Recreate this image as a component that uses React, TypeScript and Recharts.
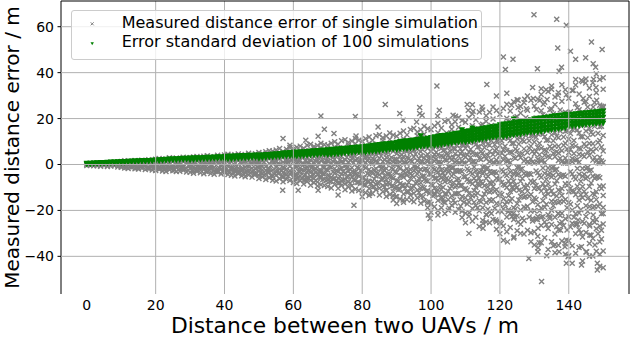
import React from 'react';
import { ReferenceLine, Scatter, ScatterChart, XAxis, YAxis } from 'recharts';

const xTicks = [0, 20, 40, 60, 80, 100, 120, 140];
const yTicks = [-40, -20, 0, 20, 40, 60];
const gridX = [20, 40, 60, 80, 100, 120, 140];
const gridY = [-40, -20, 0, 20, 40, 60];

// single simulation errors, grouped by distance (m)
const singleErrors: [number, number[]][] = [
	[0, [0.2, -0.4, 0.1]], [1, [-0.3, 0.5, -0.1]], [2, [0.4, -0.6, 0.2]], [3, [-0.5, 0.3, -0.2]],
	[4, [0.6, -0.3, -0.8]], [5, [-0.4, 0.7, 0.1]], [6, [-0.9, 0.4, -0.2]], [7, [0.5, -0.7, 0.9]],
	[8, [-0.6, 1.0, -0.3]], [9, [0.8, -1.1, 0.2]],
	[10, [-1.2, 0.5, -0.4, 1.3]], [11, [0.9, -0.8, 1.6, -1.5]], [12, [-0.3, 1.4, -1.7, 0.6]],
	[13, [1.1, -1.3, 0.2, -0.7]], [14, [-1.9, 0.8, 1.7, -0.5]], [15, [0.4, -1.4, 1.2, -2.0]],
	[16, [-0.8, 1.9, -1.6, 0.3]], [17, [1.5, -0.6, -2.2, 0.9]], [18, [-1.3, 2.1, 0.6, -1.8]],
	[19, [0.7, -2.4, 1.3, -0.9]],
	[20, [-1.5, 2.3, -0.6, 1.0, -2.6]], [21, [1.8, -1.2, 0.4, -2.1, 2.6]], [22, [-0.9, 1.5, -2.8, 0.7, -1.7]],
	[23, [2.4, -0.4, -1.9, 1.2, -3.0]], [24, [-2.3, 0.9, 2.9, -1.1, 0.3]], [25, [1.4, -2.7, -0.7, 2.0, -1.6]],
	[26, [-1.2, 2.8, -3.1, 0.6, 1.6]], [27, [0.8, -1.9, 2.2, -2.9, -0.5]], [28, [-2.5, 1.3, 3.2, -0.9, -1.4]],
	[29, [2.7, -3.3, 0.5, -1.8, 1.9]],
	[30, [-1.7, 3.0, -3.4, 0.9, 2.1, -0.6]], [31, [1.2, -2.6, 3.3, -1.1, -3.8, 0.4]],
	[32, [-3.0, 2.4, -0.8, 1.7, -2.1, 3.5]], [33, [2.9, -1.5, -3.6, 0.6, 1.9, -2.4]],
	[34, [-2.2, 3.6, 0.2, -4.0, 1.3, -1.0]], [35, [1.6, -3.2, 2.6, -1.6, 3.8, -0.3]],
	[36, [-3.9, 1.1, -2.0, 3.1, -0.7, 2.2]], [37, [3.4, -2.8, 0.8, -1.3, -4.3, 1.8]],
	[38, [-1.8, 2.7, -3.3, 4.0, 0.5, -2.6]], [39, [2.3, -4.1, 1.4, -0.6, 3.2, -2.0]],
	[40, [-3.5, 2.9, -1.2, 4.1, -2.4, 0.7]], [41, [1.9, -4.4, 3.3, -0.5, -2.9, 4.5]],
	[42, [-2.1, 3.8, -4.7, 1.2, 2.4, -1.3]], [43, [4.2, -3.1, 0.9, -2.2, 3.0, -5.0]],
	[44, [-4.0, 1.7, 4.6, -1.5, -2.8, 2.6]], [45, [2.8, -2.5, -4.9, 3.9, 0.3, -1.7]],
	[46, [-1.1, 4.4, -3.6, 2.1, -5.3, 1.4]], [47, [3.5, -4.6, 1.8, -2.7, 4.9, -0.8]],
	[48, [-3.2, 2.3, -5.5, 3.7, -1.6, 0.6]], [49, [4.7, -1.9, -3.8, 1.1, 2.9, -4.4]],
	[50, [-4.8, 3.6, -1.4, 5.2, -2.9, 0.8, -6.1]], [51, [2.2, -3.9, 4.8, -0.7, -5.4, 1.6, -2.3]],
	[52, [-2.6, 5.5, -4.3, 1.9, 3.1, -6.5, -0.9]], [53, [4.5, -1.8, -5.8, 2.7, -3.4, 6.0, 0.4]],
	[54, [-5.1, 2.0, 3.9, -2.4, -6.9, 1.2, 5.8]], [55, [1.5, -4.7, 6.3, -1.2, -3.1, 4.1, -7.2]],
	[56, [-3.7, 4.9, -6.2, 2.6, 0.2, -2.0, 7.0]], [57, [5.7, -5.5, 1.0, -3.5, 3.4, -7.5, -1.3]],
	[58, [-6.4, 3.0, -2.2, 6.6, -4.5, 1.8, 0.5]], [59, [2.9, -7.0, 4.4, -0.9, -4.0, 7.4, -2.7]],
	[60, [-5.6, 4.0, -2.1, 6.8, -7.8, 1.3, -3.9, 2.5]], [61, [3.6, -6.0, 7.5, -1.0, -4.6, 5.1, -8.3, 0.6]],
	[62, [-3.1, 6.2, -7.1, 1.9, 4.4, -5.0, -1.5, 8.0]], [63, [7.1, -2.6, -8.5, 3.3, -4.9, 0.2, 5.6, -6.7]],
	[64, [-7.4, 2.8, 5.3, -3.3, -1.2, 8.4, -5.8, 1.0]], [65, [1.8, -5.2, 8.8, -0.4, -6.9, 4.7, -3.0, -9.0]],
	[66, [-4.2, 6.9, -8.0, 3.7, 0.9, -2.3, 7.8, -6.1]], [67, [8.3, -7.6, 2.1, -4.4, 5.0, -9.4, -1.1, 3.1]],
	[68, [-8.8, 4.3, -2.8, 7.3, -5.6, 1.6, 9.2, -3.6]], [69, [3.9, -9.2, 6.0, -1.3, -6.3, 8.6, -4.1, 0.7]],
	[70, [-6.6, 5.2, -2.4, 8.4, -9.6, 1.5, -4.8, 3.2]], [71, [4.4, -7.4, 9.3, -1.2, -5.7, 6.3, -10.2, 0.8]],
	[72, [-3.8, 7.6, -8.7, 2.3, 5.4, -6.1, -1.8, 9.9]], [73, [8.8, -3.2, -10.4, 4.0, -6.0, 0.3, 6.9, -8.2]],
	[74, [-9.1, 3.5, 6.5, -4.1, -1.5, 10.3, -7.1, 1.2]], [75, [2.2, -6.4, 10.8, -0.5, -8.5, 5.8, -3.7, -11.0]],
	[76, [-5.2, 8.5, -9.8, 4.5, 1.1, -2.8, 9.6, -7.5]], [77, [10.2, -9.3, 2.6, -5.4, 6.2, -11.5, -1.4, 3.8]],
	[78, [-10.8, 5.3, -3.4, 9.0, -6.9, 2.0, 11.3, -4.4]], [79, [4.8, -11.3, 7.4, -1.6, -7.7, 10.6, -5.0, 0.9]],
	[80, [-7.9, 6.3, -2.9, 10.1, -11.6, 1.8, -5.8, 3.9, -14.0]], [81, [5.3, -8.9, 11.2, -1.4, -6.9, 7.6, -12.3, 0.9, 3.0]],
	[82, [-4.6, 9.2, -10.5, 2.8, 6.5, -7.4, -2.2, 12.0, -13.5]], [83, [10.6, -3.9, -12.6, 4.8, -7.3, 0.4, 8.3, -9.9, 2.5]],
	[84, [-11.0, 4.2, 7.9, -5.0, -1.8, 12.5, -8.6, 1.4, -3.4]], [85, [2.7, -7.8, 13.0, -0.6, -10.3, 7.0, -4.5, -13.3, 5.1]],
	[86, [-6.3, 10.3, -11.9, 5.5, 1.3, -3.4, 11.6, -9.1, -1.0]], [87, [12.4, -11.3, 3.1, -6.6, 7.5, -13.9, -1.7, 4.6, -8.5]],
	[88, [-13.1, 6.4, -4.1, 10.9, -8.4, 2.4, 13.7, -5.3, 0.5]], [89, [5.8, -13.7, 9.0, -2.0, -9.3, 12.8, -6.0, 1.1, -15.5]],
	[90, [-9.6, 7.7, -3.5, 12.3, -14.1, 2.2, -7.0, 4.7, -17.0, 0.3]],
	[91, [6.4, -10.8, 13.6, -1.7, -8.4, 9.2, -15.0, 1.1, 3.6, -4.9]],
	[92, [-5.6, 11.2, -12.8, 3.4, 7.9, -9.0, -2.7, 14.6, -16.4, 0.8]],
	[93, [12.9, -4.7, -15.3, 5.8, -8.9, 0.5, 10.1, -12.0, 3.0, -1.9]],
	[94, [-13.4, 5.1, 9.6, -6.1, -2.2, 15.2, -10.5, 1.7, -4.1, 7.2]],
	[95, [3.3, -9.5, 15.8, -0.7, -12.5, 8.5, -5.5, -16.2, 6.2, -2.6]],
	[96, [-7.7, 12.5, -14.5, 6.7, 1.6, -4.1, 14.1, -11.1, -1.2, 9.7]],
	[97, [15.1, -13.7, 3.8, -8.0, 9.1, -16.9, -2.1, 5.6, -10.3, 0.9]],
	[98, [-15.9, 7.8, -5.0, 13.2, -10.2, 2.9, 16.7, -6.4, 0.6, -2.3]],
	[99, [7.0, -16.6, 10.9, -2.4, -11.3, 15.6, -7.3, 1.3, -18.8, 4.5]],
	[100, [-11.8, 9.4, -4.3, 15.1, -17.3, 2.7, -8.6, 5.8, -20.8, 0.4]],
	[101, [7.9, -13.3, 16.8, -2.1, -10.3, 11.4, -18.4, 1.4, 4.4, -6.0]],
	[102, [-6.9, 13.8, -15.7, 4.2, 9.7, -11.1, -3.3, 18.0, -20.1, 1.0]],
	[103, [15.9, -5.8, -18.8, 7.1, -10.9, 0.6, 12.4, -14.7, 3.7, -2.3]],
	[104, [-16.5, 6.3, 11.8, -7.5, -2.7, 18.7, -12.9, 2.1, -5.0, 8.9]],
	[105, [4.1, -11.7, 19.4, -0.9, -15.4, 10.5, -6.8, -19.9, 7.6, -3.2]],
	[106, [-9.5, 15.4, -17.8, 8.2, 2.0, -5.0, 17.3, -13.6, -1.5, 11.9]],
	[107, [18.6, -16.8, 4.7, -9.8, 11.2, -20.8, -2.6, 6.9, -12.7, 1.1]],
	[108, [-19.6, 9.6, -6.2, 16.2, -12.5, 3.6, 20.5, -7.9, 0.7, -2.8]],
	[109, [8.6, -20.4, 13.4, -3.0, -13.9, 19.2, -9.0, 1.6, -23.1, 5.5]],
	[110, [-14.5, 11.5, -5.3, 18.4, -21.2, 3.3, -10.5, 7.1, -25.4, 0.5, 14.0]],
	[111, [9.7, -16.3, 20.5, -2.6, -12.6, 13.9, -22.5, 1.7, 5.4, -7.3, -30]],
	[112, [-8.4, 16.9, -19.2, 5.1, 11.9, -13.6, -4.0, 22.0, -24.6, 1.2, 26]],
	[113, [19.5, -7.1, -23.0, 8.7, -13.4, 0.7, 15.2, -18.0, 4.5, -2.8, -9.9]],
	[114, [-20.2, 7.7, 14.4, -9.2, -3.3, 22.9, -15.8, 2.6, -6.1, 10.9, -27]],
	[115, [5.0, -14.3, 23.7, -1.1, -18.8, 12.8, -8.3, -24.3, 9.3, -3.9, 17.5]],
	[116, [-11.6, 18.8, -21.8, 10.0, 2.4, -6.1, 21.2, -16.6, -1.8, 14.6, -25]],
	[117, [22.7, -20.5, 5.7, -12.0, 13.7, -25.4, -3.2, 8.4, -15.5, 1.3, -8]],
	[118, [-24.0, 11.7, -7.6, 19.8, -15.3, 4.4, 25.0, -9.7, 0.9, -3.4, 13]],
	[119, [10.5, -24.9, 16.4, -3.7, -17.0, 23.5, -11.0, 2.0, -28.2, 6.7, -6]],
	[120, [-17.3, 13.7, -6.3, 21.9, -25.2, 3.9, -12.5, 8.4, -30.2, 0.6, 16.6]],
	[121, [11.5, -19.4, 24.4, -3.1, -15.0, 16.5, -26.8, 2.0, 6.4, -8.7, -33]],
	[122, [-10.0, 20.1, -22.9, 6.1, 14.2, -16.2, -4.8, 26.2, -29.3, 1.4, 31]],
	[123, [23.3, -8.5, -27.4, 10.4, -16.0, 0.8, 18.1, -21.5, 5.4, -3.3, -11.8]],
	[124, [-24.0, 9.2, 17.2, -11.0, -3.9, 27.3, -18.8, 3.1, -7.3, 13.0, -32]],
	[125, [6.0, -17.1, 28.2, -1.3, -22.4, 15.3, -9.9, -28.9, 11.1, -4.6, 20.8]],
	[126, [-13.8, 22.4, -26.0, 11.9, 2.9, -7.3, 25.3, -19.8, -2.1, 17.4, -30]],
	[127, [27.0, -24.4, 6.8, -14.3, 16.3, -30.3, -3.8, 10.0, -18.5, 1.5, -9.5]],
	[128, [-28.6, 13.9, -9.0, 23.6, -18.2, 5.2, 29.8, -11.6, 1.1, -4.1, 15.5]],
	[129, [12.5, -29.7, 19.5, -4.4, -20.3, 28.0, -13.1, 2.4, -33.6, 8.0, -7.2]],
	[130, [-20.1, 15.9, -7.3, 25.5, -29.3, 4.6, -14.6, 9.8, -35.1, 0.7, 19.3, -10.5]],
	[131, [13.4, -22.6, 28.4, -3.6, -17.5, 19.2, -31.2, 2.3, 7.4, -10.1, -38, 1.0]],
	[132, [-11.6, 23.4, -26.6, 7.1, 16.5, -18.9, -5.6, 30.5, -34.1, 1.6, 33, -23]],
	[133, [27.1, -9.9, -31.9, 12.1, -18.6, 0.9, 21.0, -25.0, 6.3, -3.8, -13.7, 4.0]],
	[134, [-27.9, 10.7, 20.0, -12.8, -4.5, 31.8, -21.9, 3.6, -8.5, 15.1, -37, -1.5]],
	[135, [7.0, -19.9, 32.8, -1.5, -26.1, 17.8, -11.5, -33.6, 12.9, -5.4, 24.2, -16]],
	[136, [-16.1, 26.1, -30.3, 13.8, 3.4, -8.5, 29.4, -23.0, -2.4, 20.2, -35, 8.0]],
	[137, [31.4, -28.4, 7.9, -16.6, 19.0, -35.2, -4.4, 11.6, -21.5, 1.7, -11.1, 5.0]],
	[138, [-33.3, 16.2, -10.5, 27.5, -21.2, 6.0, 34.7, -13.5, 1.3, -4.8, 18.0, -25]],
	[139, [14.5, -34.5, 22.7, -5.1, -23.6, 32.6, -15.2, 2.8, -39.1, 9.3, -8.4, 0.6]],
	[140, [-22.8, 18.0, -8.3, 28.9, -33.2, 5.2, -16.5, 11.1, -39.7, 0.8, 21.9, -11.9]],
	[141, [15.2, -25.6, 32.2, -4.1, -19.8, 21.7, -35.4, 2.6, 8.4, -11.4, -43, 1.2]],
	[142, [-13.2, 26.5, -30.2, 8.0, 18.7, -21.4, -6.3, 34.6, -38.7, 1.8, 37, -26]],
	[143, [30.7, -11.2, -36.2, 13.7, -21.1, 1.0, 23.8, -28.4, 7.1, -4.3, -15.5, 4.5]],
	[144, [-31.6, 12.1, 22.7, -14.5, -5.1, 36.1, -24.8, 4.1, -9.6, 17.1, -42, -1.7]],
	[145, [7.9, -22.6, 37.2, -1.7, -29.6, 20.2, -13.0, -38.1, 14.6, -6.1, 27.4, -18]],
	[146, [-18.3, 29.6, -34.4, 15.7, 3.9, -9.6, 33.3, -26.1, -2.7, 22.9, -40, 9.1]],
	[147, [35.6, -32.2, 9.0, -18.8, 21.5, -39.9, -5.0, 13.2, -24.4, 1.9, -12.6, 5.7]],
	[148, [-37.8, 18.4, -11.9, 31.2, -24.0, 6.8, 39.4, -15.3, 1.5, -5.4, 20.4, -28]],
	[149, [16.4, -39.1, 25.8, -5.8, -26.8, 37.0, -17.2, 3.2, -44.3, 10.5, -9.5, 0.7]],
	[150, [-25.9, 20.4, -9.4, 32.8, -37.7, 5.9, -18.7, 12.6, -45.0, 0.9, 24.8, -13.5]],
];

// denser core of the same cloud, at the half-metre distances
const coreErrors: [number, number[]][] = [
	[10.5, [-0.7, 0.9]], [11.5, [0.3, -1.2]], [12.5, [-1.0, 0.6]], [13.5, [1.3, -0.4]], [14.5, [-1.4, 0.2]],
	[15.5, [0.8, -0.9]], [16.5, [-0.3, 1.5]], [17.5, [-1.6, 0.5]], [18.5, [1.1, -0.6]], [19.5, [-1.2, 0.4]],
	[20.5, [1.4, -1.0]], [21.5, [-1.8, 0.6]], [22.5, [0.2, -2.2]], [23.5, [-0.8, 1.9]], [24.5, [2.1, -1.5]],
	[25.5, [-2.4, 0.4]], [26.5, [0.9, -0.3]], [27.5, [-1.3, 2.5]], [28.5, [1.7, -2.0]], [29.5, [-0.6, 1.1]],
	[30.5, [-2.5, 1.6]], [31.5, [0.7, -1.9]], [32.5, [2.6, -0.4]], [33.5, [-1.2, 2.2]], [34.5, [-2.9, 0.9]],
	[35.5, [1.3, -2.3]], [36.5, [-0.5, 2.9]], [37.5, [2.0, -3.1]], [38.5, [-1.6, 1.0]], [39.5, [0.4, -2.7]],
	[40.5, [-2.2, 1.5, 3.2]], [41.5, [0.6, -3.0, 2.2]], [42.5, [-1.4, 3.1, -3.5]], [43.5, [2.6, -0.9, -2.6]],
	[44.5, [-3.4, 0.9, 3.5]], [45.5, [1.5, -1.9, -3.9]], [46.5, [-0.6, 2.7, -2.8]], [47.5, [3.9, -3.6, 0.4]],
	[48.5, [-2.4, 1.2, -4.2]], [49.5, [0.8, -1.2, 3.6]], [50.5, [-3.6, 2.5, -0.3]], [51.5, [1.1, -4.6, 3.8]],
	[52.5, [-1.8, 3.9, -3.2]], [53.5, [2.9, -0.5, -4.9]], [54.5, [-4.1, 1.0, 4.4]], [55.5, [0.3, -2.8, 2.8]],
	[56.5, [-2.6, 3.7, -5.2]], [57.5, [4.6, -1.5, -4.0]], [58.5, [-5.0, 2.2, 0.9]], [59.5, [1.7, -3.6, 5.3]],
	[60.5, [-4.4, 2.6, -0.8, 5.0, -6.3]], [61.5, [0.9, -3.1, 4.7, -5.5, 2.0]], [62.5, [-2.2, 5.4, -6.0, 0.3, 3.4]],
	[63.5, [4.0, -4.6, 1.5, -1.6, -6.8]], [64.5, [-5.9, 0.6, 3.9, -2.7, 6.1]], [65.5, [2.7, -1.2, -4.5, 5.6, -0.4]],
	[66.5, [-3.4, 4.6, -6.9, 1.4, -1.9]], [67.5, [5.8, -5.6, 0.7, -2.9, 3.6]], [68.5, [-6.6, 2.1, -1.1, 4.9, -4.0]],
	[69.5, [1.6, -7.1, 5.5, -2.3, 0.2]], [70.5, [-4.9, 3.8, -0.9, 6.4, -7.4]], [71.5, [1.3, -3.3, 5.7, -6.2, 2.9]],
	[72.5, [-2.6, 6.8, -7.0, 0.5, 4.1]], [73.5, [5.0, -5.2, 1.8, -1.9, -8.0]], [74.5, [-6.8, 0.9, 4.7, -3.1, 7.3]],
	[75.5, [3.1, -1.4, -5.4, 6.7, -0.3]], [76.5, [-4.0, 5.5, -8.1, 1.7, -2.2]], [77.5, [7.0, -6.6, 0.8, -3.4, 4.3]],
	[78.5, [-7.8, 2.5, -1.3, 5.9, -4.7]], [79.5, [1.9, -8.3, 6.5, -2.7, 0.3]], [80.5, [-5.8, 4.5, -1.0, 7.6, -8.9]],
	[81.5, [1.5, -3.9, 6.8, -7.4, 3.4]], [82.5, [-3.1, 8.0, -8.4, 0.6, 4.9]], [83.5, [6.0, -6.3, 2.2, -2.3, -9.6]],
	[84.5, [-8.2, 1.1, 5.6, -3.8, 8.7]], [85.5, [3.7, -1.7, -6.5, 8.0, -0.4]], [86.5, [-4.9, 6.6, -9.8, 2.0, -2.6]],
	[87.5, [8.5, -8.0, 1.0, -4.1, 5.2]], [88.5, [-9.5, 3.0, -1.6, 7.2, -5.7]], [89.5, [2.3, -10.1, 7.9, -3.3, 0.4]],
	[90.5, [-7.2, 5.6, -1.3, 9.4, -11.0]], [91.5, [1.9, -4.8, 8.4, -9.2, 4.2]], [92.5, [-3.8, 9.9, -10.4, 0.8, 6.0]],
	[93.5, [7.4, -7.8, 2.7, -2.9, -11.9]], [94.5, [-10.2, 1.4, 6.9, -4.7, 10.8]], [95.5, [4.6, -2.1, -8.1, 9.9, -0.5]],
	[96.5, [-6.1, 8.2, -12.2, 2.5, -3.2]], [97.5, [10.6, -9.9, 1.2, -5.1, 6.5]], [98.5, [-11.8, 3.7, -2.0, 8.9, -7.1]],
	[99.5, [2.9, -12.6, 9.8, -4.1, 0.5]],
	[100.5, [-8.9, 6.9, -1.6, 11.6, -13.6, 3.4, -5.2]], [101.5, [2.4, -6.0, 10.5, -11.6, 5.3, -2.8, 8.0]],
	[102.5, [-4.8, 12.5, -13.1, 1.0, 7.6, -9.0, -0.9]], [103.5, [9.4, -9.9, 3.4, -3.7, -15.0, 6.1, -6.6]],
	[104.5, [-12.9, 1.8, 8.8, -6.0, 13.7, -2.2, 4.5]], [105.5, [5.9, -2.7, -10.3, 12.6, -0.6, -7.4, 2.8]],
	[106.5, [-7.8, 10.5, -15.6, 3.2, -4.1, 7.0, -1.2]], [107.5, [13.6, -12.7, 1.5, -6.6, 8.4, -3.0, -9.3]],
	[108.5, [-15.3, 4.8, -2.6, 11.5, -9.2, 0.4, 6.9]], [109.5, [3.8, -16.4, 12.8, -5.3, 0.7, -10.8, 8.5]],
	[110.5, [-11.1, 8.6, -2.0, 14.5, -17.2, 4.2, -6.5]], [111.5, [3.0, -7.5, 13.1, -14.5, 6.6, -3.4, 10.0]],
	[112.5, [-6.0, 15.6, -16.4, 1.3, 9.5, -11.3, -1.1]], [113.5, [11.8, -12.4, 4.3, -4.6, -18.8, 7.6, -8.3]],
	[114.5, [-16.2, 2.2, 11.0, -7.5, 17.1, -2.7, 5.6]], [115.5, [7.4, -3.4, -12.9, 15.8, -0.8, -9.3, 3.5]],
	[116.5, [-9.8, 13.1, -19.5, 4.0, -5.1, 8.8, -1.5]], [117.5, [17.0, -15.9, 1.9, -8.3, 10.5, -3.8, -11.6]],
	[118.5, [-19.1, 6.0, -3.3, 14.4, -11.5, 0.5, 8.6]], [119.5, [4.8, -20.5, 16.0, -6.6, 0.9, -13.5, 10.6]],
	[120.5, [-13.1, 10.3, -2.4, 17.4, -20.6, 5.0, -7.8]], [121.5, [3.6, -9.0, 15.7, -17.4, 7.9, -4.1, 12.0]],
	[122.5, [-7.2, 18.7, -19.7, 1.6, 11.4, -13.6, -1.3]], [123.5, [14.2, -14.9, 5.2, -5.5, -22.6, 9.1, -10.0]],
	[124.5, [-19.4, 2.7, 13.2, -9.0, 20.5, -3.2, 6.7]], [125.5, [8.9, -4.1, -15.5, 19.0, -1.0, -11.2, 4.2]],
	[126.5, [-11.8, 15.7, -23.4, 4.8, -6.1, 10.6, -1.8]], [127.5, [20.4, -19.1, 2.3, -10.0, 12.6, -4.6, -13.9]],
	[128.5, [-22.9, 7.2, -4.0, 17.3, -13.8, 0.6, 10.3]], [129.5, [5.8, -24.6, 19.2, -7.9, 1.1, -16.2, 12.7]],
	[130.5, [-15.2, 11.9, -2.8, 20.2, -23.9, 5.8, -9.1]], [131.5, [4.2, -10.4, 18.2, -20.2, 9.2, -4.8, 13.9]],
	[132.5, [-8.4, 21.7, -22.8, 1.9, 13.2, -15.8, -1.5]], [133.5, [16.5, -17.3, 6.0, -6.4, -26.2, 10.6, -11.6]],
	[134.5, [-22.5, 3.1, 15.3, -10.4, 23.8, -3.7, 7.8]], [135.5, [10.3, -4.7, -18.0, 22.0, -1.1, -13.0, 4.9]],
	[136.5, [-13.7, 18.2, -27.1, 5.6, -7.1, 12.3, -2.1]], [137.5, [23.7, -22.2, 2.7, -11.6, 14.6, -5.3, -16.1]],
	[138.5, [-26.6, 8.4, -4.6, 20.1, -16.0, 0.7, 12.0]], [139.5, [6.7, -28.5, 22.3, -9.2, 1.3, -18.8, 14.7]],
	[140.5, [-17.3, 13.5, -3.2, 23.0, -27.2, 6.6, -10.3]], [141.5, [4.8, -11.8, 20.7, -23.0, 10.5, -5.4, 15.8]],
	[142.5, [-9.5, 24.7, -25.9, 2.2, 15.0, -18.0, -1.7]], [143.5, [18.8, -19.7, 6.8, -7.3, -29.8, 12.1, -13.2]],
	[144.5, [-25.6, 3.5, 17.4, -11.8, 27.1, -4.2, 8.9]], [145.5, [11.7, -5.4, -20.5, 25.0, -1.3, -14.8, 5.6]],
	[146.5, [-15.6, 20.7, -30.8, 6.4, -8.1, 14.0, -2.4]], [147.5, [27.0, -25.2, 3.1, -13.2, 16.6, -6.0, -18.3]],
	[148.5, [-30.2, 9.6, -5.2, 22.9, -18.2, 0.8, 13.6]], [149.5, [7.6, -32.4, 25.4, -10.5, 1.5, -21.4, 16.7]],
];

// isolated crosses far from the main cloud
const outlierPoints: [number, number][] = [
	[129.9, 65.2], [136.5, 63.2], [139.3, 60.6], [121, 46.8], [123.8, 45.8], [121.6, 41.4], [130.9, 41.7],
	[136.8, 50.7], [140.5, 49.3], [142, 45.8], [144.9, 46.5], [146.6, 53.3], [149.7, 50.1], [137.2, 40.6],
	[137.9, 42.4], [147.1, 43.9], [147.8, 42.4], [150, 37.8], [147.2, 37.1], [143.7, 36.7], [144.9, 35.5],
	[147.9, 33.5], [101.7, 34.2], [116.2, 34.8], [119, 29.8], [129.5, 33.5], [133.4, 32.6], [135, 34.2],
	[136.9, 30.1], [139.3, 30.4], [141.3, 32.3], [86.7, 26.1], [68, 21.1], [78, 20.9], [96.7, 24.8],
	[102.4, 23.6], [101.9, 21.1], [106.4, 21.4], [107.1, 21], [110.5, 26.1], [110.8, 23.6], [112.2, 23.2],
	[114.8, 25], [123.4, 25.8], [125.3, 28], [127.2, 28.4], [129.7, 28.7], [131.6, 28], [133.7, 28.3],
	[125.3, 24.8], [127.7, 24.3], [130.6, 23.9], [132.6, 26.2], [144.2, 28.7], [148.1, 28], [147.1, 25],
	[150, 25.3], [69, 15.3], [71.8, 13.5], [78.2, 12.4], [84.6, 16.3], [90.9, 22.2], [91.9, 19.3],
	[95.8, 18.5], [96.7, 22.2], [97.4, 21.4], [57, 11.3], [59, 8.4], [67.2, 12.3], [63.6, 10.6],
	[56.9, -11.2], [61.4, -11.2], [67.2, -11.2], [73, -13.3], [77.6, -17.7], [82.2, -12.6], [87.1, -11.2],
	[89, -11.9], [89.7, -14.1], [91.9, -15.5], [94.3, -15.5], [97.7, -14.1], [99.6, -16.3], [101.1, -12.6],
	[103.5, -16.3], [99.2, -22], [99.7, -23.5], [102, -22], [104, -21.3], [105.3, -19.1], [108.6, -18.1],
	[111.1, -21], [115.1, -25.7], [115.1, -27.8], [116.1, -22], [117.5, -21.3], [118.8, -24.2],
	[120.4, -25.7], [122.2, -33.7], [124.1, -31.5], [123.9, -21.3], [124.3, -22.8], [125.3, -25],
	[122.4, -20.6], [128.4, -40.9], [129.5, -23.5], [130.9, -23.9], [131.1, -27.8], [131.4, -34.1],
	[131.1, -36.3], [132.1, -51], [133.6, -39.7], [135.5, -35.4], [136, -38.4], [137.2, -38],
	[134.5, -23.5], [136.9, -21.3], [137.4, -25.7], [137.6, -28.6], [139.3, -32.9], [138.9, -35.8],
	[139.3, -43], [139.8, -40.2], [142.3, -26.4], [142.7, -24.2], [143.7, -35.8], [143.7, -43.8],
	[145.2, -38], [146.1, -30.7], [146.1, -26.8], [147.1, -22], [147.6, -35.1], [148.3, -43],
	[148.3, -45.9], [149, -33.7], [149.5, -28.6], [150, -21.3],
];

// standard deviation of 100 simulations, grouped by distance (m)
const stdErrors: [number, number[]][] = [
	[0, [0.0, 0.3, 0.5]], [1, [0.2, 0.5, 0.1]], [2, [0.6, 0.2, 0.4]], [3, [0.3, 0.7, 0.5]],
	[4, [0.6, 0.3, 0.8]], [5, [0.4, 0.8, 0.6]], [6, [0.9, 0.5, 0.7]], [7, [0.6, 1.0, 0.8]],
	[8, [0.9, 0.6, 1.0]], [9, [0.7, 1.1, 0.9]],
	[10, [1.1, 0.7, 1.2]], [11, [0.8, 1.2, 1.0]], [12, [1.3, 0.9, 1.1]], [13, [1.0, 1.4, 1.2]],
	[14, [1.4, 1.0, 1.3]], [15, [1.1, 1.5, 1.3]], [16, [1.6, 1.2, 1.4]], [17, [1.2, 1.7, 1.5]],
	[18, [1.7, 1.3, 1.5]], [19, [1.4, 1.8, 1.6]],
	[20, [1.9, 1.4, 1.7]], [21, [1.5, 2.0, 1.7]], [22, [2.1, 1.6, 1.8]], [23, [1.7, 2.2, 2.0]],
	[24, [2.3, 1.8, 2.0]], [25, [1.9, 2.4, 2.1]], [26, [2.4, 1.9, 2.2]], [27, [2.0, 2.5, 2.3]],
	[28, [2.6, 2.1, 2.3]], [29, [2.2, 2.6, 2.4]],
	[30, [2.7, 1.8, 2.3]], [31, [2.0, 2.8, 2.4]], [32, [2.9, 2.1, 2.5]], [33, [2.2, 2.9, 2.6]],
	[34, [3.0, 2.3, 2.6]], [35, [2.3, 3.1, 2.7]], [36, [3.1, 2.4, 2.8]], [37, [2.5, 3.2, 2.8]],
	[38, [3.3, 2.5, 2.9]], [39, [2.6, 3.3, 2.9]],
	[40, [3.4, 2.1, 2.8]], [41, [2.3, 3.5, 2.9]], [42, [3.6, 2.3, 3.0]], [43, [2.4, 3.6, 3.0]],
	[44, [3.7, 2.5, 3.1]], [45, [2.6, 3.8, 3.1]], [46, [3.8, 2.6, 3.2]], [47, [2.7, 3.9, 3.2]],
	[48, [3.9, 2.8, 3.3]], [49, [2.8, 4.0, 3.4]],
	[50, [4.0, 2.5, 3.3]], [51, [2.7, 4.1, 3.4]], [52, [4.3, 2.8, 3.5]], [53, [3.0, 4.3, 3.6]],
	[54, [4.5, 3.0, 3.7]], [55, [3.2, 4.6, 3.8]], [56, [4.7, 3.3, 3.9]], [57, [3.4, 4.9, 4.0]],
	[58, [5.0, 3.5, 4.1]], [59, [3.6, 5.1, 4.2]],
	[60, [5.2, 3.3, 4.3]], [61, [3.5, 5.3, 4.4]], [62, [5.4, 3.6, 4.5]], [63, [3.7, 5.5, 4.6]],
	[64, [5.6, 3.8, 4.7]], [65, [3.9, 5.8, 4.8]], [66, [5.9, 4.0, 4.9]], [67, [4.1, 6.0, 5.0]],
	[68, [6.1, 4.2, 5.1]], [69, [4.3, 6.2, 5.2]],
	[70, [6.3, 4.1, 5.3]], [71, [4.2, 6.5, 5.4]], [72, [6.6, 4.4, 5.5]], [73, [4.5, 6.8, 5.6]],
	[74, [6.9, 4.6, 5.7]], [75, [4.8, 7.0, 5.8]], [76, [7.1, 4.9, 6.0]], [77, [5.0, 7.3, 6.1]],
	[78, [7.4, 5.1, 6.2]], [79, [5.3, 7.5, 6.3]],
	[80, [7.6, 5.0, 6.3, 7.0]], [81, [5.1, 7.9, 6.5, 5.8]], [82, [8.0, 5.3, 6.6, 7.3]], [83, [5.5, 8.3, 6.8, 6.1]],
	[84, [8.4, 5.6, 7.0, 7.7]], [85, [5.8, 8.6, 7.2, 6.5]], [86, [8.8, 6.0, 7.4, 8.1]], [87, [6.1, 9.0, 7.5, 6.8]],
	[88, [9.1, 6.3, 7.7, 8.4]], [89, [6.5, 9.3, 7.9, 7.2]],
	[90, [9.6, 6.3, 8.0, 8.9, 7.1]], [91, [6.5, 9.9, 8.2, 7.3, 9.1]], [92, [10.1, 6.7, 8.4, 9.3, 7.5]],
	[93, [6.8, 10.3, 8.5, 7.6, 9.4]], [94, [10.4, 7.0, 8.7, 9.6, 7.8]], [95, [7.2, 10.6, 8.9, 8.0, 9.8]],
	[96, [10.8, 7.4, 9.1, 10.0, 8.2]], [97, [7.6, 11.0, 9.3, 8.4, 12.4, 10.2]], [98, [11.1, 7.8, 9.4, 10.3, 8.5]],
	[99, [8.0, 11.3, 9.6, 8.7, 10.5]],
	[100, [11.7, 7.8, 9.8, 10.8, 8.8]], [101, [8.0, 12.0, 10.0, 9.0, 11.0]], [102, [12.2, 8.3, 10.3, 11.3, 9.3]],
	[103, [8.5, 12.5, 10.5, 9.5, 11.5]], [104, [12.7, 8.7, 10.7, 11.7, 9.7]], [105, [8.9, 12.9, 10.9, 9.9, 11.9]],
	[106, [13.2, 9.1, 11.1, 12.1, 10.1]], [107, [9.4, 13.4, 11.4, 10.4, 12.4]], [108, [13.6, 9.6, 11.6, 12.6, 10.6]],
	[109, [9.8, 13.9, 11.8, 10.8, 15.0, 12.8]],
	[110, [14.3, 9.6, 12.0, 13.2, 10.8]], [111, [9.9, 14.6, 12.3, 11.1, 13.5]], [112, [14.9, 10.1, 12.5, 13.7, 15.8, 11.3]],
	[113, [10.4, 15.2, 12.8, 11.6, 14.0]], [114, [15.4, 10.6, 13.0, 14.2, 11.8]], [115, [10.9, 15.7, 13.3, 12.1, 14.5]],
	[116, [15.9, 11.1, 13.5, 14.7, 12.3]], [117, [11.4, 16.2, 13.8, 12.6, 15.0]], [118, [16.4, 11.6, 14.0, 15.2, 12.8]],
	[119, [11.9, 16.7, 14.3, 13.1, 15.5]],
	[120, [17.2, 11.8, 14.5, 15.9, 13.1]], [121, [12.0, 17.5, 14.7, 13.3, 16.1]], [122, [17.7, 12.2, 15.0, 16.4, 13.6]],
	[123, [12.5, 17.9, 15.2, 13.8, 16.6]], [124, [18.1, 12.7, 15.4, 16.8, 19.7, 14.0]], [125, [12.9, 18.4, 15.7, 14.3, 17.1]],
	[126, [18.6, 13.1, 15.9, 17.3, 14.5]], [127, [13.4, 18.8, 16.1, 14.7, 17.5]], [128, [19.0, 13.6, 16.3, 17.7, 14.9]],
	[129, [13.8, 19.3, 16.6, 15.2, 18.0]],
	[130, [19.8, 13.8, 16.8, 18.3, 15.3]], [131, [14.0, 20.0, 17.0, 15.5, 18.5]], [132, [20.2, 14.2, 17.2, 18.7, 15.7]],
	[133, [14.5, 20.4, 17.5, 16.0, 19.0]], [134, [20.6, 14.7, 17.7, 19.2, 16.2]], [135, [14.9, 20.9, 17.9, 16.4, 19.4]],
	[136, [21.1, 15.1, 18.1, 19.6, 16.6]], [137, [15.3, 21.3, 18.3, 16.8, 19.8]], [138, [21.5, 15.6, 18.6, 20.1, 17.1]],
	[139, [15.8, 21.8, 18.8, 17.3, 20.3]],
	[140, [21.7, 16.4, 19.0, 20.4, 17.6]], [141, [16.5, 21.8, 19.2, 17.8, 20.6]], [142, [22.0, 16.7, 19.3, 20.7, 17.9]],
	[143, [16.8, 22.1, 19.5, 18.1, 20.9]], [144, [22.3, 17.0, 19.6, 21.0, 18.2]], [145, [17.2, 22.5, 19.8, 18.4, 21.2]],
	[146, [22.6, 17.3, 19.9, 21.3, 18.5]], [147, [17.5, 22.8, 20.1, 18.7, 21.5]], [148, [22.9, 17.6, 20.2, 21.6, 18.8]],
	[149, [17.8, 23.1, 20.4, 19.0, 21.8]], [150, [23.2, 17.9, 20.5, 21.9, 19.1]],
];

const toPoints = (rows: [number, number[]][]) =>
	rows.flatMap(([d, ys]) => ys.map((y) => ({ x: d, y })));

const measuredData = [
	...toPoints(singleErrors),
	...toPoints(coreErrors),
	...outlierPoints.map(([x, y]) => ({ x, y })),
];
const stdData = toPoints(stdErrors);

const FONT = 'DejaVu Sans';
const GREY = '#808080';
const GREEN = '#008000';

const Cross = (props: any) => {
	const { cx, cy } = props;
	if (cx == null || cy == null) return null;
	const r = 2.5;
	return (
		<path
			d={`M${cx - r},${cy - r}L${cx + r},${cy + r}M${cx - r},${cy + r}L${cx + r},${cy - r}`}
			stroke={GREY}
			strokeWidth={1.4}
			fill="none"
		/>
	);
};

const Tri = (props: any) => {
	const { cx, cy } = props;
	if (cx == null || cy == null) return null;
	return (
		<path
			d={`M${cx - 3.1},${cy - 2.7}L${cx + 3.1},${cy - 2.7}L${cx},${cy + 3}Z`}
			fill={GREEN}
		/>
	);
};

const XLabel = (props: any) => {
	const vb = props.viewBox || { x: 61, y: 294, width: 568, height: 44 };
	return (
		<text
			x={vb.x + vb.width / 2}
			y={vb.y + 39.2}
			textAnchor="middle"
			fontSize={21.8}
			fontFamily={FONT}
			fill="#000"
		>
			Distance between two UAVs / m
		</text>
	);
};

const YLabel = (props: any) => {
	const vb = props.viewBox || { x: 0, y: 1, width: 61, height: 293 };
	const x = vb.x + 18.5;
	const y = vb.y + vb.height / 2;
	return (
		<text
			x={x}
			y={y}
			transform={`rotate(-90 ${x} ${y})`}
			textAnchor="middle"
			fontSize={20}
			fontFamily={FONT}
			fill="#000"
		>
			Measured distance error / m
		</text>
	);
};

const fmt = (v: number) => (v < 0 ? `\u2212${-v}` : `${v}`);

const LegendBox = () => (
	<div
		style={{
			position: 'absolute',
			left: 71,
			top: 9.5,
			width: 411,
			height: 50.5,
			boxSizing: 'border-box',
			border: '1px solid #cccccc',
			borderRadius: 3,
			background: 'rgba(255,255,255,0.8)',
			fontFamily: FONT,
			fontSize: 16,
			lineHeight: '16px',
			color: '#000',
			whiteSpace: 'nowrap',
		}}
	>
		<svg width={40} height={48} style={{ position: 'absolute', left: 0, top: 0 }}>
			<path d="M18.7,11.3L21.7,14.3M18.7,14.3L21.7,11.3" stroke={GREY} strokeWidth={1} />
			<path d="M18.5,31.3L21.9,31.3L20.2,34.3Z" fill={GREEN} />
		</svg>
		<span style={{ position: 'absolute', left: 49.7, top: 4.3 }}>
			Measured distance error of single simulation
		</span>
		<span style={{ position: 'absolute', left: 49.7, top: 23.6 }}>
			Error standard deviation of 100 simulations
		</span>
	</div>
);

export default function App() {
	return (
		<div style={{ position: 'absolute', left: 0, top: 0, width: 630, height: 338, background: '#fff' }}>
			<ScatterChart width={630} height={338} margin={{ top: 1, right: 1, bottom: 0, left: 0 }}>
				<XAxis
					type="number"
					dataKey="x"
					domain={[-7.5, 157.5]}
					ticks={xTicks}
					allowDataOverflow
					axisLine={false}
					tickLine={false}
					tickSize={0}
					tickMargin={6.2}
					height={44}
					tick={{ fontSize: 14, fill: '#000', fontFamily: FONT }}
					label={<XLabel />}
				/>
				<YAxis
					type="number"
					dataKey="y"
					domain={[-56.4, 71.2]}
					ticks={yTicks}
					allowDataOverflow
					width={61}
					tickSize={3.5}
					tickMargin={3.5}
					axisLine={{ stroke: '#000', strokeWidth: 1 }}
					tickLine={{ stroke: '#000', strokeWidth: 1 }}
					tickFormatter={fmt}
					tick={{ fontSize: 14, fill: '#000', fontFamily: FONT }}
					label={<YLabel />}
				/>
				<Scatter data={measuredData} shape={Cross} isAnimationActive={false} />
				<Scatter data={stdData} shape={Tri} isAnimationActive={false} />
				{gridX.map((v) => (
					<ReferenceLine key={`gx${v}`} x={v} stroke="#b0b0b0" strokeWidth={1} zIndex={700} />
				))}
				{gridY.map((v) => (
					<ReferenceLine key={`gy${v}`} y={v} stroke="#b0b0b0" strokeWidth={1} zIndex={700} />
				))}
				<ReferenceLine y={71.2} stroke="#000" strokeWidth={1} zIndex={710} />
				<ReferenceLine x={157.5} stroke="#000" strokeWidth={1} zIndex={710} />
			</ScatterChart>
			<LegendBox />
		</div>
	);
}
